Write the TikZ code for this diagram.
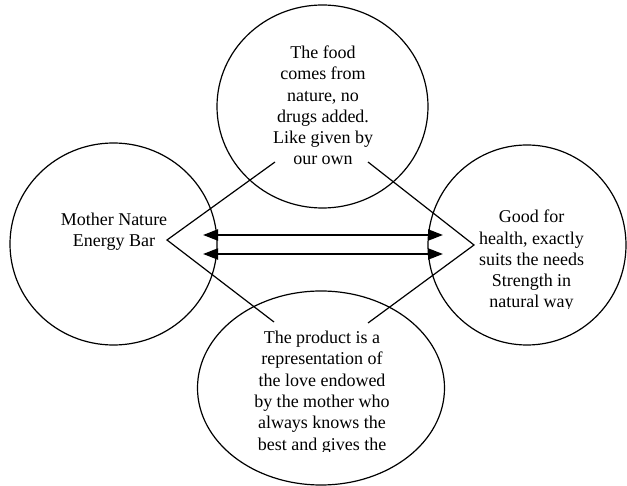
\documentclass[tikz,border=0pt]{standalone}
\usepackage{fontspec}
\setmainfont{Liberation Serif}
\usetikzlibrary{shapes.geometric,arrows.meta}
\begin{document}
\begin{tikzpicture}[x=1pt,y=-1pt,
  bub/.style={ellipse,draw,line width=1.2pt,inner sep=0pt,outer sep=0pt},
  txt/.style={align=center,anchor=base,inner sep=0pt,font=\fontsize{18}{21.3}\selectfont},
  vline/.style={line width=1.2pt,line join=miter},
  dbl/.style={line width=2.2pt,{Triangle[length=15pt,width=11pt]}-{Triangle[length=15pt,width=11pt]}}]
\fill[white] (0,0) rectangle (627,486);
\useasboundingbox (0,0) rectangle (627,486);
% circles
\node[bub,minimum width=207pt,minimum height=202pt] (L) at (113.5,244) {};
\node[bub,minimum width=211pt,minimum height=203pt] (T) at (322.5,106.5) {};
\node[bub,minimum width=198pt,minimum height=200pt] (R) at (527,245) {};
\node[bub,minimum width=247pt,minimum height=194pt] (B) at (321,388) {};
% V connectors
\coordinate (lv) at (167,240);
\coordinate (lvt) at (275,162);
\coordinate (lvb) at (274,322);
\coordinate (rv) at (474,245);
\coordinate (rvt) at (368,162);
\coordinate (rvb) at (368,323);
\draw[vline] (lvt) -- (lv) -- (lvb);
\draw[vline] (rvt) -- (rv) -- (rvb);
% double arrows
\coordinate (a1) at (203,235);
\coordinate (b1) at (443,235);
\coordinate (a2) at (203,254);
\coordinate (b2) at (443,254);
\draw[dbl] (a1) -- (b1);
\draw[dbl] (a2) -- (b2);
% texts (anchor base = baseline of last line)
\node[txt] (tL) at (114,247) {Mother Nature\\Energy Bar};
\node[txt] (tT) at (323,165) {The food\\comes from\\nature, no\\drugs added.\\Like given by\\our own};
\begin{scope}
\clip (0,0) rectangle (627,309);
\node[txt] (tR) at (531.5,308) {Good for\\health, exactly\\suits the needs\\Strength in\\natural way};
\end{scope}
\begin{scope}
\clip (0,0) rectangle (627,451);
\node[txt] (tB) at (322,450) {The product is a\\representation of\\the love endowed\\by the mother who\\always knows the\\best and gives the};
\end{scope}
\end{tikzpicture}
\end{document}
